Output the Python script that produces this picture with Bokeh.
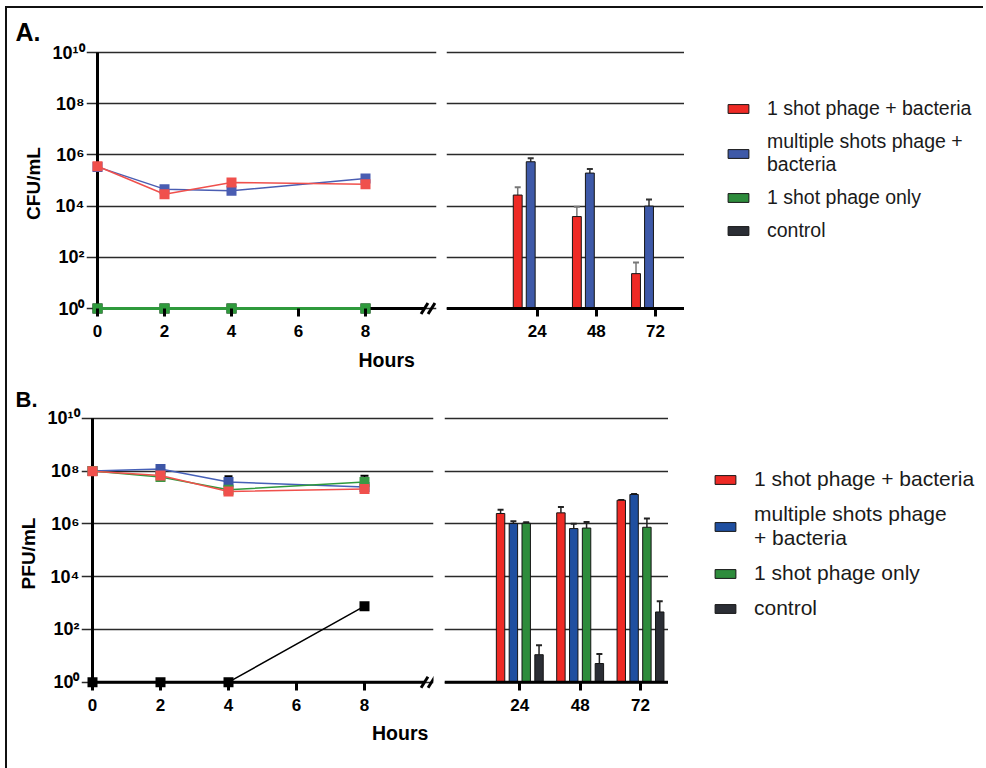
import math
from bokeh.plotting import figure
from bokeh.models import (ColumnDataSource, FixedTicker, Range1d, Legend, Title,
                          LegendItem, Whisker, TeeHead, Span)
from bokeh.layouts import row, column
from bokeh.embed import file_html
from bokeh.resources import INLINE

FONT = "Liberation Sans"

# ---------------- data ----------------
hours = [0, 2, 4, 8]
hour_ticks = [0, 2, 4, 6, 8]
day_ticks = [24, 48, 72]
log_ticks = [1e0, 1e2, 1e4, 1e6, 1e8, 1e10]
log_tick_labels = ["10⁰", "10²", "10⁴", "10⁶", "10⁸", "10¹⁰"]

names_a = ["1 shot phage + bacteria", "multiple shots phage +\nbacteria",
           "1 shot phage only", "control"]
names_b = ["1 shot phage + bacteria", "multiple shots phage\n+ bacteria",
           "1 shot phage only", "control"]

# Panel A  (CFU/mL)
a_line_one_shot = [3.6e5, 2.9e4, 8.3e4, 7.2e4]
a_line_multi = [3.4e5, 4.6e4, 4.0e4, 1.2e5]
a_line_phage_only = [1, 1, 1, 1]
a_line_control = [1, 1, 1, 1]

a_bar_one_shot = [2.7e4, 3.9e3, 23]
a_bar_one_shot_err = [5.4e4, 9.5e3, 63]
a_bar_multi = [5.4e5, 1.95e5, 1.0e4]
a_bar_multi_err = [7.4e5, 2.8e5, 1.8e4]
a_bar_phage_only = [1, 1, 1]
a_bar_phage_only_err = [1, 1, 1]
a_bar_control = [1, 1, 1]
a_bar_control_err = [1, 1, 1]

# Panel B  (PFU/mL)
b_line_one_shot = [9.8e7, 6.8e7, 1.66e7, 2.1e7]
b_line_multi = [1.0e8, 1.2e8, 3.8e7, 2.5e7]
b_line_multi_err = [1.0e8, 1.3e8, 6.3e7, 2.5e7]
b_line_phage_only = [1.0e8, 5.9e7, 1.95e7, 3.8e7]
b_line_phage_only_err = [1.0e8, 5.9e7, 1.95e7, 6.6e7]
b_line_control = [1, 1, 1, 760]

b_bar_one_shot = [2.45e6, 2.6e6, 7.8e6]
b_bar_one_shot_err = [3.4e6, 4.3e6, 7.9e6]
b_bar_multi = [1.02e6, 6.6e5, 1.29e7]
b_bar_multi_err = [1.26e6, 1.0e6, 1.35e7]
b_bar_phage_only = [1.05e6, 6.9e5, 7.4e5]
b_bar_phage_only_err = [1.15e6, 1.17e6, 1.58e6]
b_bar_control = [11, 5.1, 457]
b_bar_control_err = [25, 11.7, 1175]

# ---------------- styles ----------------
RED_BAR = "#ee2a25"
BLUE_BAR_A = "#3e59a8"
BLUE_BAR_B = "#1f4fa0"
GREEN_BAR = "#2e8c3c"
CTRL_BAR = "#2b2e35"
RED_LINE = "#f0504c"
BLUE_LINE_A = "#4a5db2"
BLUE_LINE_B = "#4660b8"
GREEN_LINE = "#2f9a3c"
GRID = "#2a2a2a"

ORIGIN_X = 7   # page position of the layout content (after border)
ORIGIN_Y = 8


def lin_range(a_val, a_px, b_val, b_px, left_px, right_px):
    s = (b_px - a_px) / (b_val - a_val)
    return Range1d(a_val + (left_px - a_px) / s, a_val + (right_px - a_px) / s), s


def log_range(y0_px, y10_px, top_px, bottom_px):
    ppd = (y0_px - y10_px) / 10.0
    return Range1d(10 ** ((y0_px - bottom_px) / ppd), 10 ** ((y0_px - top_px) / ppd)), ppd


def style_xaxis(ax, ticks, size):
    ax.ticker = FixedTicker(ticks=ticks)
    ax.axis_line_color = None
    ax.major_tick_in = 8
    ax.major_tick_out = 0
    ax.major_tick_line_width = 3
    ax.major_tick_line_color = "black"
    ax.minor_tick_line_color = None
    ax.major_label_standoff = 8
    ax.major_label_text_font = FONT
    ax.major_label_text_font_style = "bold"
    ax.major_label_text_font_size = size
    ax.major_label_text_color = "black"


def base_figure(g, xr, yr, left, right, **kw):
    p = figure(width=int(round(right - left)), height=int(round(g["bottom"] - g["top"])),
               x_range=xr, y_range=yr, y_axis_type="log",
               output_backend="svg", toolbar_location=None,
               min_border_left=int(round(g["fl"] - left)),
               min_border_right=int(round(right - g["fr"])),
               min_border_top=int(round(g["ft"] - g["top"])),
               min_border_bottom=int(round(g["bottom"] - g["fb"])), **kw)
    p.outline_line_color = None
    p.background_fill_color = "white"
    p.border_fill_color = "white"
    p.xgrid.visible = False
    p.ygrid.ticker = FixedTicker(ticks=log_ticks)
    p.ygrid.grid_line_color = GRID
    p.ygrid.grid_line_width = 1.5
    return p


def line_panel(g, series, whisk, ylabel, letter, letter_size):
    xr, sx = lin_range(0, g["x0"], 8, g["x8"], g["fl"], g["fr"])
    yr, ppd = log_range(g["y0"], g["y10"], g["ft"], g["fb"])
    p = base_figure(g, xr, yr, g["left"], g["right"])

    ya = p.yaxis[0]
    ya.ticker = FixedTicker(ticks=log_ticks)
    ya.major_label_overrides = dict(zip(log_ticks, log_tick_labels))
    ya.axis_line_color = None
    ya.major_tick_in = 0
    ya.major_tick_out = 0
    ya.minor_tick_line_color = None
    ya.major_label_standoff = 2
    ya.major_label_text_font = FONT
    ya.major_label_text_font_style = "bold"
    ya.major_label_text_font_size = "18px"
    ya.major_label_text_color = "black"
    ya.axis_label = ylabel
    ya.axis_label_text_font = FONT
    ya.axis_label_text_font_style = "bold"
    ya.axis_label_text_font_size = "19px"
    ya.axis_label_text_color = "black"
    ya.axis_label_standoff = 5

    style_xaxis(p.xaxis[0], hour_ticks, "17px")

    # axis lines (y axis spans the decade ticks, x axis runs up to the break)
    break_x = (g["brk1"] - g["x0"]) / sx
    p.line(x=[hours[0], hours[0]], y=[log_ticks[0], log_ticks[-1]],
           line_color="black", line_width=3)
    p.line(x=[hours[0], break_x], y=[log_ticks[0], log_ticks[0]],
           line_color="black", line_width=3)
    p.scatter(x=[break_x, (g["brk2"] - g["x0"]) / sx], y=[log_ticks[0], log_ticks[0]],
              marker="dash", size=13, angle=math.radians(58),
              line_color="black", line_width=3)

    for vals, lcol, mcol, lw in series:
        p.line(x=hours, y=vals, line_color=lcol, line_width=lw)
        p.scatter(x=hours, y=vals, marker="square", size=10,
                  fill_color=mcol, line_color=None)
    for vals, errs in whisk:
        idx = [i for i in range(len(hours)) if errs[i] > vals[i]]
        src = ColumnDataSource(dict(x=[hours[i] for i in idx],
                                    lo=[vals[i] for i in idx],
                                    hi=[errs[i] for i in idx]))
        p.add_layout(Whisker(base="x", lower="lo", upper="hi", source=src,
                             line_color="black", line_width=1.5, lower_head=None,
                             upper_head=TeeHead(size=8, line_color="black", line_width=2)))

    p.add_layout(Title(text=letter, align="left", offset=g["letter_x"] - g["fl"],
                       text_font=FONT, text_font_style="bold", text_font_size=letter_size,
                       text_color="black", standoff=g["letter_standoff"]), "above")
    p.add_layout(Title(text="Hours", align="left", offset=g["hours_x"] - g["fl"],
                       text_font=FONT, text_font_style="bold", text_font_size="19.5px",
                       text_color="black", standoff=g["hours_standoff"]), "below")
    return p


def bar_panel(g, bars, bar_step, bar_w):
    xr, sx = lin_range(24, g["x24"], 72, g["x72"], g["fl"], g["fr"])
    yr, ppd = log_range(g["y0"], g["y10"], g["ft"], g["fb"])
    q = base_figure(g, xr, yr, g["fl"], g["fr"], y_axis_location=None)
    style_xaxis(q.xaxis[0], day_ticks, "17px")

    n = len(bars)
    for k, (vals, errs, color, ecol) in enumerate(bars):
        xs = [d + (k - (n - 1) / 2) * bar_step for d in day_ticks]
        src = ColumnDataSource(dict(x=xs, top=vals))
        q.vbar(x="x", top="top", bottom=log_ticks[0], width=bar_w, source=src,
               fill_color=color, line_color="#151515", line_width=1)
        idx = [i for i in range(len(xs)) if errs[i] > vals[i]]
        wsrc = ColumnDataSource(dict(x=[xs[i] for i in idx], lo=[vals[i] for i in idx],
                                     hi=[errs[i] for i in idx]))
        q.add_layout(Whisker(base="x", lower="lo", upper="hi", source=wsrc,
                             line_color=ecol, line_width=1.5, lower_head=None,
                             upper_head=TeeHead(size=6, line_color=ecol, line_width=2)))
    q.add_layout(Span(location=log_ticks[0], dimension="width",
                      line_color="black", line_width=3))
    return q


def legend_panel(g, names, series, colors, font_size, spacing, line_h):
    # legend-only figure: its renderers sit outside the visible (0..1) x range
    lg = figure(width=int(round(g["right"] - g["left"])), height=int(round(g["bottom"] - g["top"])),
                x_range=Range1d(0, 1), y_range=Range1d(0, 1),
                x_axis_location=None, y_axis_location=None,
                output_backend="svg", toolbar_location=None,
                min_border_left=int(round(g["fl"] - g["left"])),
                min_border_top=int(round(g["ft"] - g["top"])),
                min_border_right=0,
                min_border_bottom=int(round(g["bottom"] - g["fb"])))
    lg.outline_line_color = None
    lg.grid.visible = False
    items = []
    for name, vals, color in zip(names, series, colors):
        r = lg.vbar(x=day_ticks, top=vals, width=1, fill_color=color,
                    line_color="#151515", line_width=1)
        items.append(LegendItem(label=name, renderers=[r]))
    legend = Legend(items=items, location="top_left", margin=0, padding=0,
                    spacing=spacing, glyph_width=26, glyph_height=11,
                    label_standoff=16, label_text_font=FONT,
                    label_text_font_size=font_size, label_text_color="#1a1a1a",
                    label_text_line_height=line_h,
                    title=" ", title_text_font_size="1px",
                    title_standoff=int(round(g["items_top"] - g["ft"])) - 1,
                    border_line_color=None, background_fill_alpha=0)
    lg.add_layout(legend)
    return lg


# ---------------- geometry (reference pixel positions) ----------------
RIGHT_EDGE = 977
geo_la = dict(left=ORIGIN_X, right=446, top=ORIGIN_Y, bottom=378,
              ft=50, fb=316, fl=86, fr=436,
              x0=97, x8=365, y0=308, y10=52, brk1=424, brk2=431,
              letter_x=15, letter_standoff=10, hours_x=358, hours_standoff=15)
geo_ba = dict(top=ORIGIN_Y, bottom=378, ft=50, fb=316, fl=446, fr=684,
              x24=536.7, x72=655, y0=308, y10=52)
geo_ga = dict(left=684, right=RIGHT_EDGE, top=ORIGIN_Y, bottom=378,
              fl=725, ft=50, fb=316, items_top=97)

geo_lb = dict(left=ORIGIN_X, right=444, top=378, bottom=760,
              ft=416, fb=690, fl=81, fr=433,
              x0=92, x8=364, y0=681.7, y10=417.7, brk1=424, brk2=431,
              letter_x=15, letter_standoff=9, hours_x=371.5, hours_standoff=13)
geo_bb = dict(top=378, bottom=760, ft=416, fb=690, fl=444, fr=668,
              x24=519.3, x72=640, y0=681.7, y10=417.7)
geo_gb = dict(left=668, right=RIGHT_EDGE, top=378, bottom=760,
              fl=712, ft=416, fb=690, items_top=467)

pa = line_panel(
    geo_la,
    [(a_line_control, "black", "black", 3),
     (a_line_phage_only, GREEN_LINE, GREEN_LINE, 3),
     (a_line_multi, BLUE_LINE_A, BLUE_LINE_A, 1.5),
     (a_line_one_shot, RED_LINE, RED_LINE, 1.5)],
    [], "CFU/mL", "A.", "25px")
qa = bar_panel(
    geo_ba,
    [(a_bar_one_shot, a_bar_one_shot_err, RED_BAR, "#777777"),
     (a_bar_multi, a_bar_multi_err, BLUE_BAR_A, "#333333"),
     (a_bar_phage_only, a_bar_phage_only_err, GREEN_BAR, "#333333"),
     (a_bar_control, a_bar_control_err, CTRL_BAR, "#333333")],
    5.27, 3.6)
la = legend_panel(geo_ga, names_a,
                  [a_bar_one_shot, a_bar_multi, a_bar_phage_only, a_bar_control],
                  [RED_BAR, BLUE_BAR_A, GREEN_BAR, CTRL_BAR], "19.5px", 10, 1.13)

pb = line_panel(
    geo_lb,
    [(b_line_control, "black", "black", 1.5),
     (b_line_multi, BLUE_LINE_B, "#3d55a6", 1.5),
     (b_line_phage_only, GREEN_LINE, "#3a9a45", 1.5),
     (b_line_one_shot, RED_LINE, RED_LINE, 1.5)],
    [(b_line_multi, b_line_multi_err), (b_line_phage_only, b_line_phage_only_err)],
    "PFU/mL", "B.", "22px")
qb = bar_panel(
    geo_bb,
    [(b_bar_one_shot, b_bar_one_shot_err, RED_BAR, "#222222"),
     (b_bar_multi, b_bar_multi_err, BLUE_BAR_B, "#222222"),
     (b_bar_phage_only, b_bar_phage_only_err, GREEN_BAR, "#222222"),
     (b_bar_control, b_bar_control_err, CTRL_BAR, "#222222")],
    5.1, 3.35)
lb = legend_panel(geo_gb, names_b,
                  [b_bar_one_shot, b_bar_multi, b_bar_phage_only, b_bar_control],
                  [RED_BAR, BLUE_BAR_B, GREEN_BAR, CTRL_BAR], "21px", 11, 1.12)

layout = column(row(pa, qa, la), row(pb, qb, lb),
                styles={"border-left": "2px solid #111", "border-top": "2px solid #111",
                        "margin-left": "5px", "margin-top": "6px",
                        "padding-right": "6px", "padding-bottom": "8px"})

open("out.html", "w").write(file_html(layout, INLINE))
